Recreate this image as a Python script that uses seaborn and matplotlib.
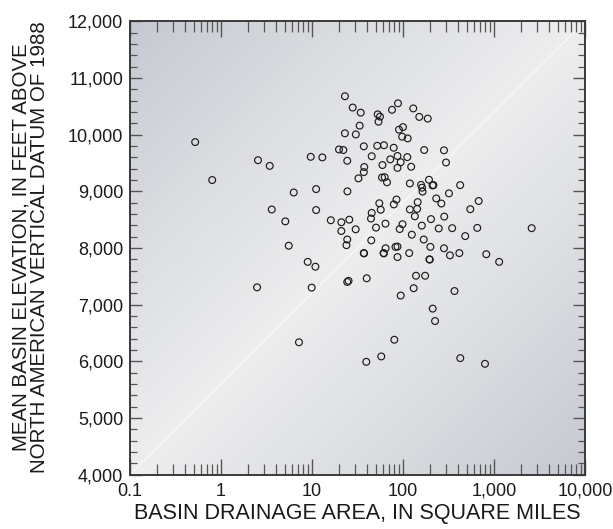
import numpy as np
import pandas as pd
import matplotlib
matplotlib.use("Agg")
import matplotlib.pyplot as plt
from matplotlib.colors import LinearSegmentedColormap
from matplotlib.ticker import LogLocator, MultipleLocator, FixedLocator, NullFormatter
import seaborn as sns

# Basin drainage area (square miles) and mean basin elevation (feet, NAVD 88)
drainage_area = [
    0.52, 0.80, 2.55, 3.43, 9.68, 12.98, 6.30, 11.1, 3.61, 11.1,
    5.09, 16.1, 21.0, 25.7, 21.0, 30.2, 24.4, 23.9, 5.55, 23.0,
    28.0, 34.3, 33.4, 23.0, 30.3, 37.1, 19.8, 22.1, 24.4, 37.5,
    37.1, 32.4, 24.5, 52.7, 55.8, 53.8, 52.1, 61.8, 45.3, 59.5,
    58.8, 62.9, 66.7, 88.1, 75.7, 129.7, 151, 187, 100, 90.4,
    98.0, 112.6, 79.1, 171, 282, 297, 87.0, 111.5, 72.5, 94.3,
    87.0, 123, 119, 158, 162, 164, 193, 211, 216, 425,
    320, 232, 264, 679, 549, 84.8, 79.3, 54.9, 56.9, 45.3,
    44.5, 145, 143, 119, 135, 284, 203, 50.5, 64.2, 98.7,
    92.0, 161, 247, 347, 655, 2594, 44.8, 125, 169, 483,
    64.4, 82.7, 87.0, 200, 282, 37.1, 37.3, 61.2, 61.6, 87.0,
    117, 195, 197, 328, 416, 823, 1140, 8.97, 10.9, 2.49,
    9.92, 24.4, 25.2, 39.9, 139, 175, 131, 94.3, 368, 212,
    225, 80.3, 57.7, 39.5, 426, 796, 7.19,
]
mean_elevation = [
    9870, 9200, 9550, 9450, 9610, 9600, 8980, 9040, 8680, 8670,
    8470, 8490, 8455, 8500, 8300, 8330, 8150, 8050, 8040, 10680,
    10480, 10390, 10160, 10025, 10005, 9795, 9740, 9730, 9540, 9430,
    9340, 9230, 9000, 10360, 10320, 10230, 9805, 9815, 9620, 9465,
    9245, 9250, 9160, 10555, 10440, 10465, 10315, 10285, 10135, 10090,
    9965, 9935, 9770, 9730, 9725, 9510, 9625, 9605, 9565, 9515,
    9415, 9435, 9140, 9115, 9065, 8995, 9205, 9105, 9110, 9110,
    8965, 8875, 8785, 8830, 8685, 8855, 8770, 8790, 8675, 8620,
    8520, 8810, 8690, 8680, 8560, 8555, 8510, 8360, 8430, 8420,
    8335, 8395, 8345, 8350, 8355, 8350, 8135, 8235, 8150, 8210,
    7995, 8020, 8025, 8020, 7995, 7910, 7905, 7910, 7905, 7840,
    7910, 7800, 7795, 7870, 7910, 7890, 7755, 7755, 7670, 7305,
    7300, 7400, 7420, 7465, 7510, 7510, 7290, 7160, 7240, 6930,
    6710, 6380, 6085, 5990, 6055, 5955, 6335,
]

x_ticks = [0.1, 1, 10, 100, 1000, 10000]
x_tick_labels = ["0.1", "1", "10", "100", "1,000", "10,000"]
y_ticks = [4000, 5000, 6000, 7000, 8000, 9000, 10000, 11000, 12000]
y_tick_labels = ["4,000", "5,000", "6,000", "7,000", "8,000",
                 "9,000", "10,000", "11,000", "12,000"]

df = pd.DataFrame({"area": drainage_area, "elev": mean_elevation})

sns.set_theme(style="ticks")
plt.rcParams["font.family"] = ["Liberation Sans", "DejaVu Sans"]

rect = [0.2121, 0.1030, 0.7422, 0.8564]
fig = plt.figure(figsize=(6.13, 5.29), dpi=100)

# shaded panel behind the plot: light along the diagonal, darker at corners
bg = fig.add_axes(rect, zorder=0)
n = 300
u, v = np.meshgrid(np.linspace(0, 1, n), np.linspace(0, 1, n))
dist = np.abs(u - v)
shade = LinearSegmentedColormap.from_list(
    "panel", ["#eeeeef", "#dcdee2", "#c6c9d1"])
bg.imshow(dist ** 0.9, cmap=shade, vmin=0, vmax=1, origin="lower",
          extent=[0, 1, 0, 1], aspect="auto")
bg.plot([0, 1], [0, 1], color="white", lw=0.7, alpha=0.8)
bg.set_xlim(0, 1)
bg.set_ylim(0, 1)
bg.axis("off")

ax = fig.add_axes(rect, zorder=1)
ax.patch.set_visible(False)

sns.scatterplot(data=df, x="area", y="elev", ax=ax, marker="o", s=24,
                facecolors="none", edgecolors="#1c1c1c", linewidth=0.85,
                legend=False)

ax.set_xscale("log")
ax.set_xlim(0.1, 10000)
ax.set_ylim(4000, 12000)

ax.xaxis.set_major_locator(FixedLocator(x_ticks))
ax.set_xticklabels(x_tick_labels)
ax.xaxis.set_minor_locator(LogLocator(base=10, subs=np.arange(2, 10),
                                      numticks=50))
ax.xaxis.set_minor_formatter(NullFormatter())
ax.yaxis.set_major_locator(FixedLocator(y_ticks))
ax.set_yticklabels(y_tick_labels)
ax.yaxis.set_minor_locator(MultipleLocator(200))

# tick labels come from the axes; the tick marks themselves are drawn below
ax.tick_params(axis="both", which="both", length=0)
ax.tick_params(axis="x", which="major", labelsize=13, labelcolor="#1a1a1a",
               pad=6)
ax.tick_params(axis="y", which="major", labelsize=13, labelcolor="#1a1a1a",
               pad=5)

# inward tick marks on all four sides (lengths as axes fractions)
tick_col = "#555555"
fig_w, fig_h = fig.get_size_inches()
ax_w_pt = rect[2] * fig_w * 72
ax_h_pt = rect[3] * fig_h * 72
xmaj_len, xmin_len = 11.5 / ax_h_pt, 7.8 / ax_h_pt
ymaj_len, ymin_len = 8.5 / ax_w_pt, 5.0 / ax_w_pt

xmajor = [t for t in ax.xaxis.get_majorticklocs() if 0.1 <= t <= 10000]
xminor = [t for t in ax.xaxis.get_minorticklocs() if 0.1 < t < 10000]
ymajor = [t for t in ax.yaxis.get_majorticklocs() if 4000 <= t <= 12000]
yminor = [t for t in ax.yaxis.get_minorticklocs()
          if 4000 < t < 12000 and t not in ymajor]

xt = ax.get_xaxis_transform()
yt = ax.get_yaxis_transform()
for locs, length, lw in ((xmajor, xmaj_len, 1.0), (xminor, xmin_len, 0.9)):
    ax.vlines(locs, 0, length, transform=xt, colors=tick_col,
              linewidths=lw, clip_on=False, zorder=2)
    ax.vlines(locs, 1 - length, 1, transform=xt, colors=tick_col,
              linewidths=lw, clip_on=False, zorder=2)
for locs, length, lw in ((ymajor, ymaj_len, 1.0), (yminor, ymin_len, 0.9)):
    ax.hlines(locs, 0, length, transform=yt, colors=tick_col,
              linewidths=lw, clip_on=False, zorder=2)
    ax.hlines(locs, 1 - length, 1, transform=yt, colors=tick_col,
              linewidths=lw, clip_on=False, zorder=2)

ax.set_xlim(0.1, 10000)
ax.set_ylim(4000, 12000)

for sp in ax.spines.values():
    sp.set_visible(True)
    sp.set_color("#3a3a3a")
    sp.set_linewidth(1.4)
    sp.set_zorder(4)

ax.set_xlabel("BASIN DRAINAGE AREA, IN SQUARE MILES", fontsize=15.5,
              color="#1a1a1a", labelpad=2)
ax.set_ylabel("")
fig.text(0.049, 0.533,
         "MEAN BASIN ELEVATION, IN FEET ABOVE\n"
         "NORTH AMERICAN VERTICAL DATUM OF 1988",
         rotation=90, ha="center", va="center", multialignment="center",
         fontsize=14.8, color="#1a1a1a", linespacing=1.0)

fig.savefig("out.png", dpi=100)
